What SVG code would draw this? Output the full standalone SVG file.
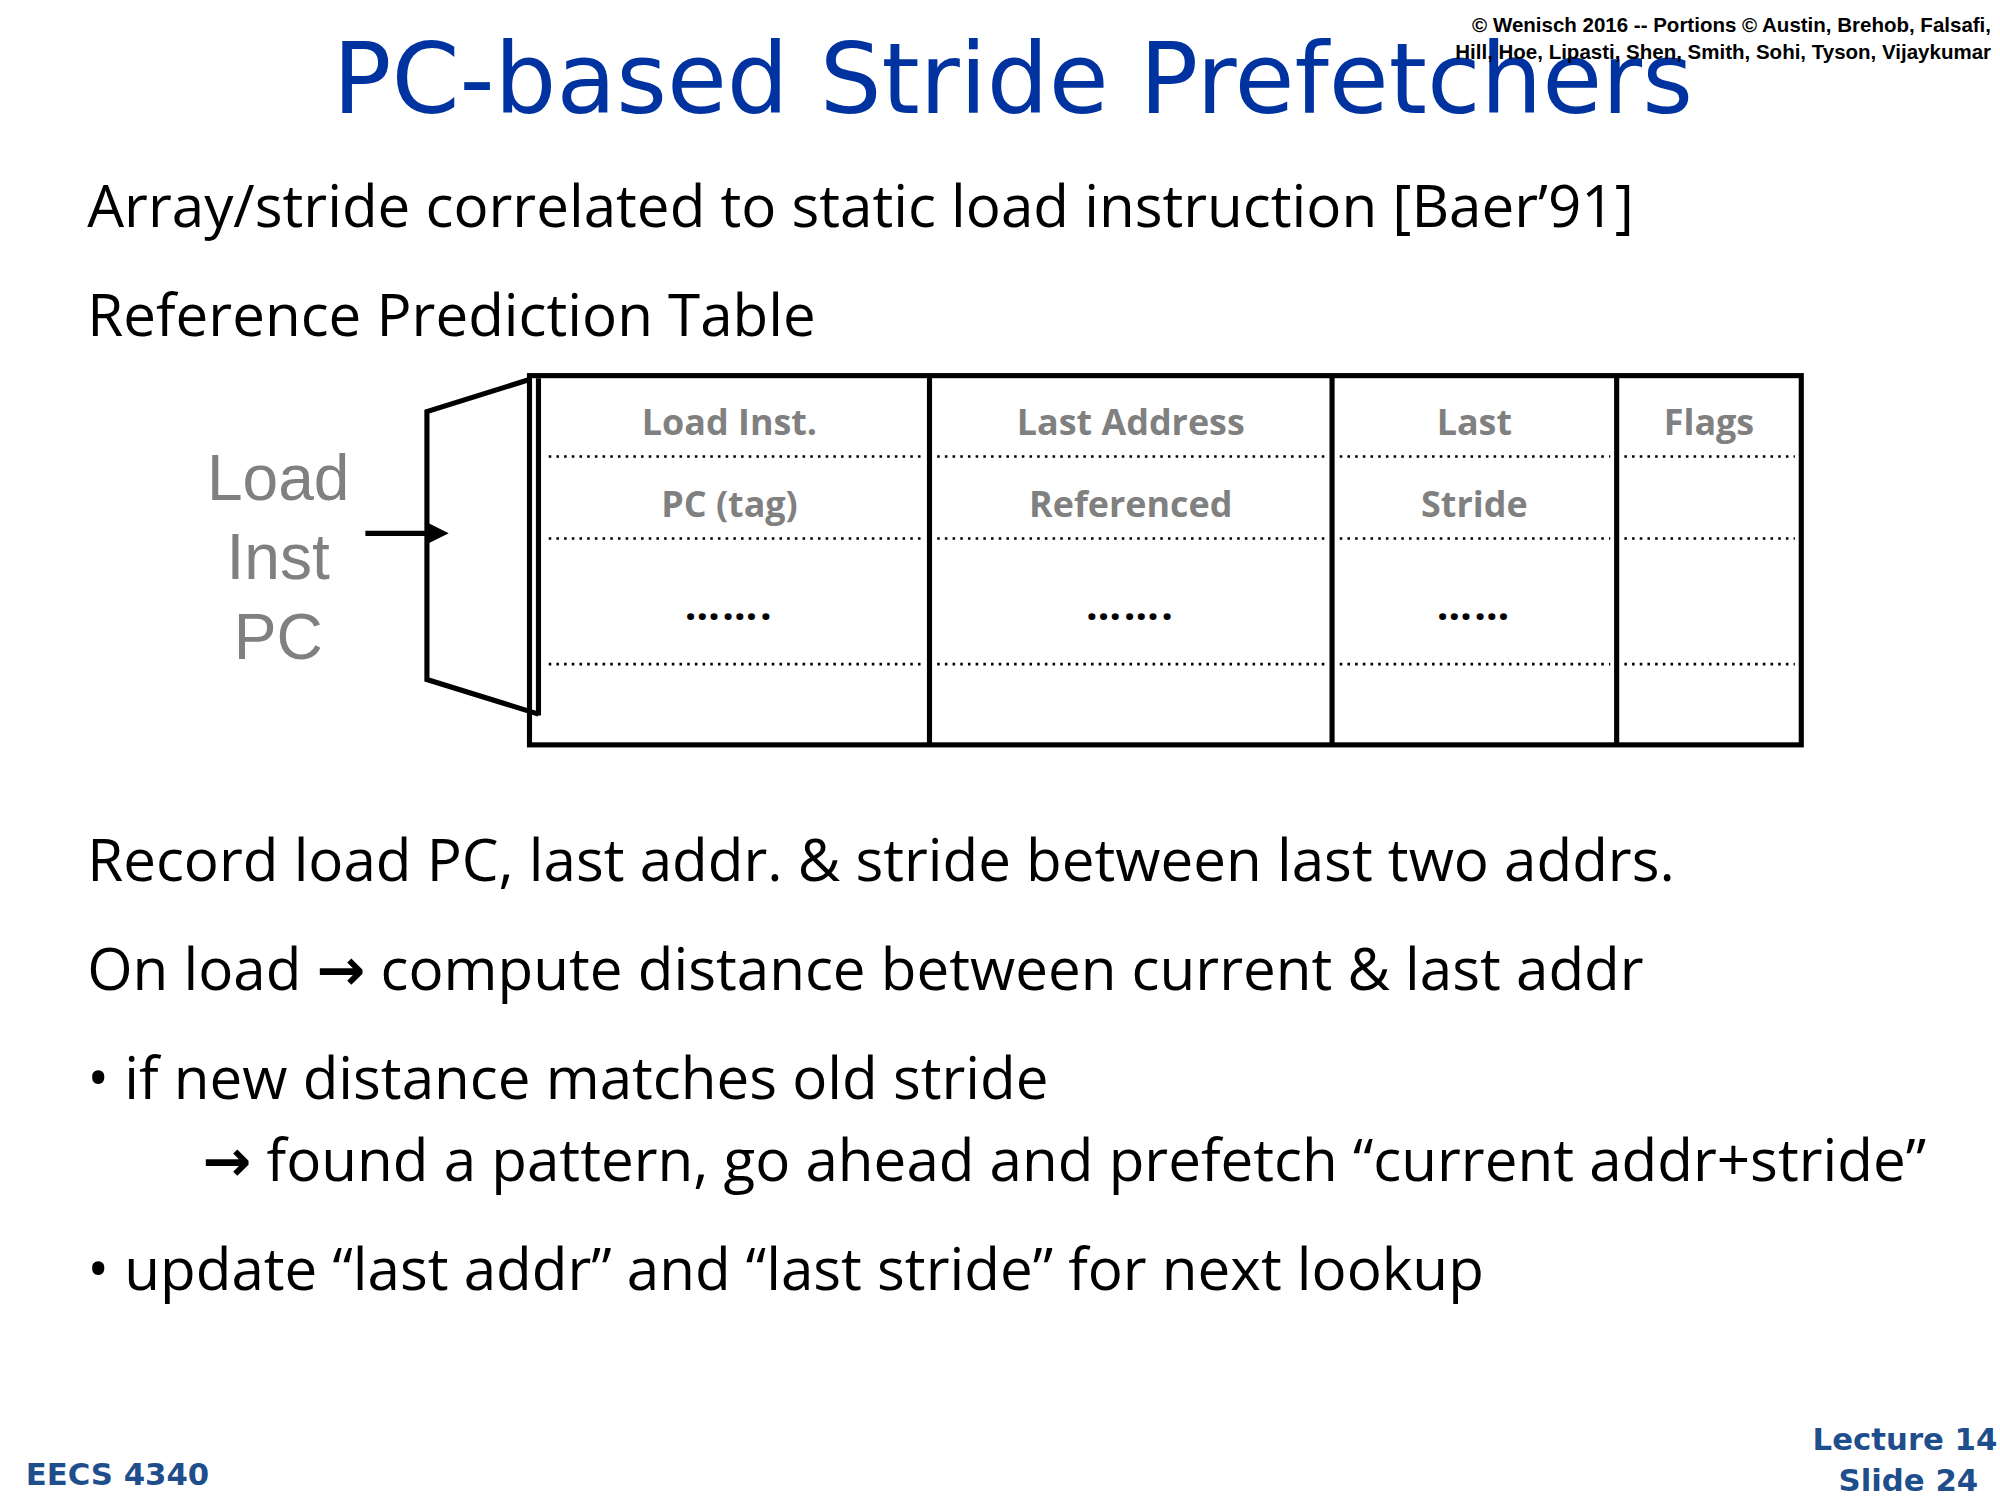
<svg xmlns="http://www.w3.org/2000/svg" width="2000" height="1500" viewBox="0 0 2000 1500">
<style>
.body{font-family:"Open Sans","Liberation Sans",sans-serif;font-size:45.5px;fill:#000}
.arr{font-family:"DejaVu Sans",sans-serif;font-weight:bold}
.hdr{font-family:"Open Sans","Liberation Sans",sans-serif;font-size:28px;font-weight:bold;fill:#808080;text-anchor:middle}
.dots{font-family:"Open Sans","Liberation Sans",sans-serif;font-size:32px;font-weight:bold;fill:#000;text-anchor:middle}
.pc{font-family:"Liberation Sans",sans-serif;font-size:50px;fill:#808080;text-anchor:middle}
.foot{font-family:"DejaVu Sans",sans-serif;font-size:24px;font-weight:bold;fill:#1f4e8c}
.copy{font-family:"Liberation Sans",sans-serif;font-size:16px;font-weight:bold;fill:#000;text-anchor:end}
.dot{stroke:#000;stroke-width:2;stroke-dasharray:2 4;fill:none}
</style>
<defs><marker id="ah" markerWidth="4" markerHeight="4" refX="1" refY="2" orient="auto" markerUnits="strokeWidth"><path d="M0,0 L4,2 L0,4 Z" fill="#000"/></marker></defs>
<rect width="2000" height="1500" fill="#fff"/>
<g transform="scale(1.28205)">
<text x="790" y="88" text-anchor="middle" font-family="'DejaVu Sans',sans-serif" font-size="76" fill="#0033a0">PC-based Stride Prefetchers</text>
<text class="copy" x="1553" y="25">© Wenisch 2016 -- Portions © Austin, Brehob, Falsafi,</text>
<text class="copy" x="1553" y="46">Hill, Hoe, Lipasti, Shen, Smith, Sohi, Tyson, Vijaykumar</text>
<text class="body" x="68" y="177">Array/stride correlated to static load instruction [Baer’91]</text>
<text class="body" x="68" y="262">Reference Prediction Table</text>
<g id="input">
<text class="pc" x="217" y="390">Load</text>
<text class="pc" x="217" y="452">Inst</text>
<text class="pc" x="217" y="514">PC</text>
</g>
<g id="decoder"><polyline points="413,296 333,321 333,530 420,557" fill="none" stroke="#000" stroke-width="4"/><line x1="420" y1="295" x2="420" y2="558" stroke="#000" stroke-width="4"/></g>
<g id="connectors"><line x1="285" y1="416" x2="338" y2="416" stroke="#000" stroke-width="4" marker-end="url(#ah)"/></g>
<g id="table">
<rect x="413" y="293" width="992" height="288" fill="none" stroke="#000" stroke-width="4"/>
<line x1="725" y1="293" x2="725" y2="581" stroke="#000" stroke-width="4"/>
<line x1="1039" y1="293" x2="1039" y2="581" stroke="#000" stroke-width="4"/>
<line x1="1261" y1="293" x2="1261" y2="581" stroke="#000" stroke-width="4"/>
<path class="dot" d="M428,356H720M731,356H1034M1045,356H1256M1267,356H1400M428,420H720M731,420H1034M1045,420H1256M1267,420H1400M428,518H720M731,518H1034M1045,518H1256M1267,518H1400"/>
<text class="hdr" x="569" y="339">Load Inst.</text>
<text class="hdr" x="569" y="403">PC (tag)</text>
<text class="hdr" x="882" y="339">Last Address</text>
<text class="hdr" x="882" y="403">Referenced</text>
<text class="hdr" x="1150" y="339">Last</text>
<text class="hdr" x="1150" y="403">Stride</text>
<text class="hdr" x="1333" y="339">Flags</text>
<text class="dots" x="569" y="484" letter-spacing="2">…….</text>
<text class="dots" x="882" y="484" letter-spacing="2">…….</text>
<text class="dots" x="1150" y="484" letter-spacing="2">……</text>
</g>
<text class="body" x="68" y="687">Record load PC, last addr. &amp; stride between last two addrs.</text>
<text class="body" x="68" y="772">On load <tspan class="arr">→</tspan> compute distance between current &amp; last addr</text>
<text class="body" x="68" y="857">• if new distance matches old stride</text>
<text class="body" x="158" y="921"><tspan class="arr">→</tspan> found a pattern, go ahead and prefetch “current addr+stride”</text>
<text class="body" x="68" y="1006">• update “last addr” and “last stride” for next lookup</text>
<text class="foot" x="20" y="1158">EECS 4340</text>
<text class="foot" x="1558" y="1131" text-anchor="end">Lecture 14</text>
<text class="foot" x="1543" y="1163" text-anchor="end">Slide 24</text>
</g>
</svg>
